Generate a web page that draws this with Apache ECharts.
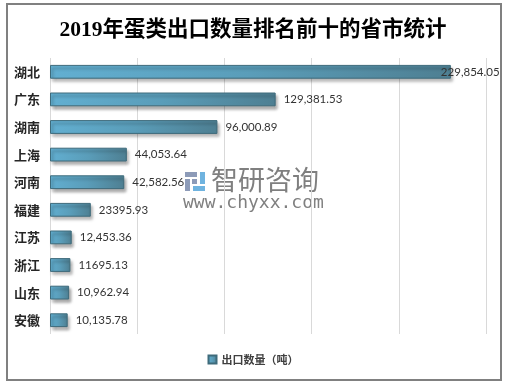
<!DOCTYPE html>
<html>
<head>
<meta charset="utf-8">
<script src="https://cdn.jsdelivr.net/npm/echarts@6/dist/echarts.min.js"></script>
<style>
html,body{margin:0;padding:0;background:#fff;}
#frame{position:absolute;left:6px;top:3px;width:492px;height:374px;border:2px solid #808080;}
#chart{position:absolute;left:0;top:0;width:506px;height:384px;}
</style>
</head>
<body>
<div id="frame"></div>
<div id="chart"></div>
<script>
var titleText = '2019年蛋类出口数量排名前十的省市统计';
var seriesName = '出口数量（吨）';
var categories = ['湖北','广东','湖南','上海','河南','福建','江苏','浙江','山东','安徽'];
var values = [229854.05,129381.53,96000.89,44053.64,42582.56,23395.93,12453.36,11695.13,10962.94,10135.78];
var labelTexts = ['229,854.05','129,381.53','96,000.89','44,053.64','42,582.56','23395.93','12,453.36','11695.13','10,962.94','10,135.78'];
var xMax = 250000, xInterval = 50000;

var chart = echarts.init(document.getElementById('chart'), null, {renderer:'canvas'});
var barGrad = new echarts.graphic.LinearGradient(0,0,1,0,[
  {offset:0,color:'#62afd1'},{offset:0.5,color:'#5a9db9'},{offset:1,color:'#4e7f92'}]);
var data = values.map(function(v,i){
  var d = {value:v, label:{formatter:labelTexts[i]}};
  if (i === 0) { d.label.offset = [-18,0]; }
  return d;
});
chart.setOption({
  animation:false,
  title:{text:titleText,left:'center',top:15,
    textStyle:{fontFamily:'Liberation Serif, Noto Sans CJK SC, serif',fontSize:21.5,fontWeight:'bold',color:'#000'}},
  legend:{bottom:14,left:'center',itemWidth:8,itemHeight:8,itemGap:4,icon:'rect',
    textStyle:{fontFamily:'Noto Sans CJK SC',fontSize:11,fontWeight:'bold',color:'#404040'},
    data:[seriesName]},
  grid:{left:50,right:20,top:58,bottom:50,containLabel:false},
  xAxis:{type:'value',min:0,max:xMax,interval:xInterval,
    axisLabel:{show:false},axisLine:{show:false},axisTick:{show:false},
    splitLine:{show:true,lineStyle:{color:'#d9d9d9',width:1}}},
  yAxis:{type:'category',inverse:true,data:categories,
    axisLine:{show:false},axisTick:{show:false},
    axisLabel:{margin:10,fontFamily:'Noto Sans CJK SC',fontSize:13,fontWeight:'bold',color:'#262626'}},
  series:[{name:seriesName,type:'bar',data:data,barWidth:'50%',
    itemStyle:{color:barGrad,borderColor:'#3e6b7b',borderWidth:1,
      shadowColor:'rgba(0,0,0,0.35)',shadowBlur:3,shadowOffsetX:2,shadowOffsetY:3},
    label:{show:true,position:'right',distance:8,
      fontFamily:'Lato, Liberation Sans, sans-serif',fontSize:11.5,color:'#333'}}],
  graphic:[
    {type:'group',left:185,top:172,children:[
      {type:'rect',shape:{x:0,y:0,width:12,height:5},style:{fill:'#8d9bb8'}},
      {type:'rect',shape:{x:0,y:7,width:5,height:12},style:{fill:'#8d9bb8'}},
      {type:'rect',shape:{x:7,y:7,width:5,height:5},style:{fill:'#8d9bb8'}},
      {type:'rect',shape:{x:15,y:0,width:5,height:12},style:{fill:'#6fb3df'}},
      {type:'rect',shape:{x:8,y:14,width:12,height:5},style:{fill:'#6fb3df'}}
    ]},
    {type:'text',left:211,top:166,style:{text:'智研咨询',fill:'#7f7f7f',
      font:'27px "Noto Sans CJK SC"'}},
    {type:'text',left:183,top:194,style:{text:'www.chyxx.com',fill:'#808080',
      font:'18px "DejaVu Sans Mono"'}}
  ]
});
</script>
</body>
</html>
